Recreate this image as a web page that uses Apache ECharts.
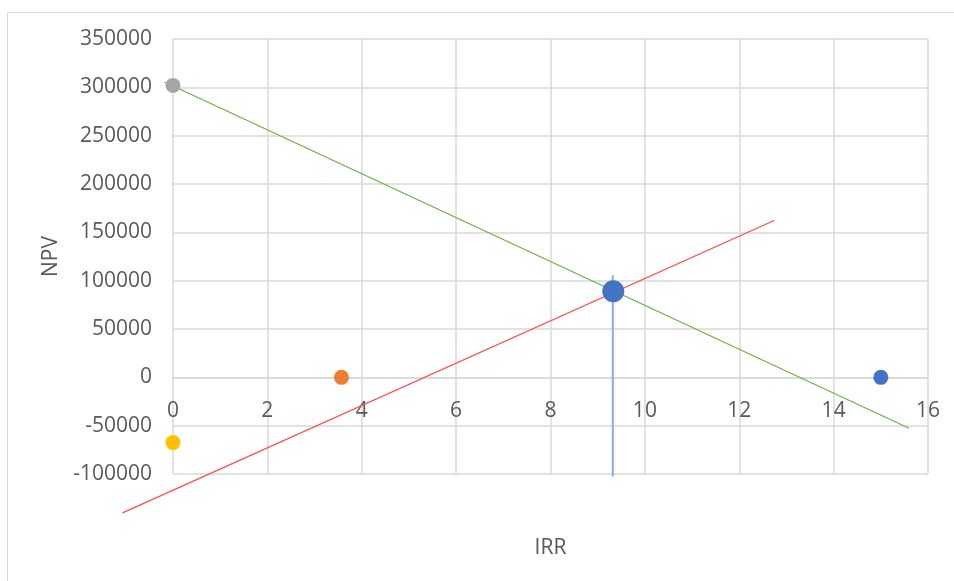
<!DOCTYPE html>
<html>
<head>
<meta charset="utf-8">
<script src="https://cdn.jsdelivr.net/npm/echarts@6/dist/echarts.min.js"></script>
<style>
  html, body { margin: 0; padding: 0; background: #fff; }
  #chart { width: 954px; height: 581px; }
</style>
</head>
<body>
<div id="chart"></div>
<script>
// Axis ranges and ticks
const irrTicks = [0, 2, 4, 6, 8, 10, 12, 14, 16];
const npvTicks = [-100000, -50000, 0, 50000, 100000, 150000, 200000, 250000, 300000, 350000];

// NPV falling as the discount rate rises: [x1, y1, x2, y2]
const npvDeclineLine = [[-0.18, 305500, 15.6, -52600]];
// Rising comparison line
const npvRiseLine = [[-1.07, -140200, 12.74, 162200]];
// Vertical marker at the crossing rate
const irrMarkerLine = [[9.32, 105500, 9.32, -102500]];
// Crossing point of the two lines
const crossPoint = [[9.33, 89000]];

// Single points
const pointBlue = [[15, 0]];
const pointOrange = [[3.57, 0]];
const pointGray = [[0, 302000]];
const pointYellow = [[0, -67500]];

const labelColor = '#595959';
const gridColor = '#d9d9d9';
const fontFamily = '"Open Sans", "Liberation Sans", sans-serif';

// Plot box (px) and the pixel distance of the zero line above the bottom edge,
// so the horizontal axis sits on NPV = 0
const gridTop = 39, gridBottom = 107, chartHeight = 581;
const plotHeight = chartHeight - gridTop - gridBottom;
const yMin = npvTicks[0], yMax = npvTicks[npvTicks.length - 1];
const zeroOffset = -plotHeight * (0 - yMin) / (yMax - yMin);

const chart = echarts.init(document.getElementById('chart'), null, { renderer: 'canvas' });

function dot(data, color, size) {
  return {
    type: 'scatter', data: data, symbol: 'circle', symbolSize: size,
    itemStyle: { color: color, opacity: 1 }, z: 5, silent: true
  };
}
// Straight segment between two data coordinates, allowed to run past the plot edges
function segment(data, color, width) {
  return {
    type: 'custom', data: data, clip: false, silent: true, z: 3,
    encode: { x: [0, 2], y: [1, 3] },
    renderItem: function (params, api) {
      const p1 = api.coord([api.value(0), api.value(1)]);
      const p2 = api.coord([api.value(2), api.value(3)]);
      return {
        type: 'line',
        shape: { x1: p1[0], y1: p1[1], x2: p2[0], y2: p2[1] },
        style: { stroke: color, lineWidth: width, fill: null }
      };
    }
  };
}

chart.setOption({
  animation: false,
  backgroundColor: '#ffffff',
  graphic: [{
    type: 'rect', z: -10,
    shape: { x: 7.5, y: 12.5, width: 1000, height: 1000 },
    style: { fill: 'none', stroke: gridColor, lineWidth: 1 }
  }],
  grid: { left: 173, right: 26, top: gridTop, bottom: gridBottom, containLabel: false, outerBoundsMode: 'none' },
  xAxis: {
    type: 'value', min: irrTicks[0], max: irrTicks[irrTicks.length - 1], interval: 2,
    position: 'bottom', offset: zeroOffset,
    name: 'IRR', nameLocation: 'middle', nameGap: 160,
    nameTextStyle: { color: labelColor, fontSize: 21, fontFamily: fontFamily },
    axisLine: { show: true, onZero: false, lineStyle: { color: gridColor, width: 1.5 } },
    axisTick: { show: false },
    axisLabel: { color: labelColor, fontSize: 21, fontFamily: fontFamily, margin: 23 },
    splitLine: { show: true, lineStyle: { color: gridColor, width: 1.5 } }
  },
  yAxis: {
    type: 'value', min: yMin, max: yMax, interval: 50000,
    name: 'NPV', nameLocation: 'middle', nameGap: 111, nameRotate: 90,
    nameTextStyle: { color: labelColor, fontSize: 21, fontFamily: fontFamily },
    axisLine: { show: false, onZero: false },
    axisTick: { show: false },
    axisLabel: {
      color: labelColor, fontSize: 21, fontFamily: fontFamily, margin: 21,
      formatter: function (v) { return String(v); }
    },
    splitLine: { show: true, lineStyle: { color: gridColor, width: 1.5 } }
  },
  series: [
    segment(irrMarkerLine, '#8faadc', 2),
    segment(npvDeclineLine, '#70ad47', 1.2),
    segment(npvRiseLine, '#ff4b4b', 1.2),
    dot(pointBlue, '#4472c4', 15),
    dot(pointOrange, '#ed7d31', 15),
    dot(pointGray, '#a5a5a5', 15),
    dot(pointYellow, '#ffc000', 15),
    dot(crossPoint, '#4472c4', 22)
  ]
});
</script>
</body>
</html>
